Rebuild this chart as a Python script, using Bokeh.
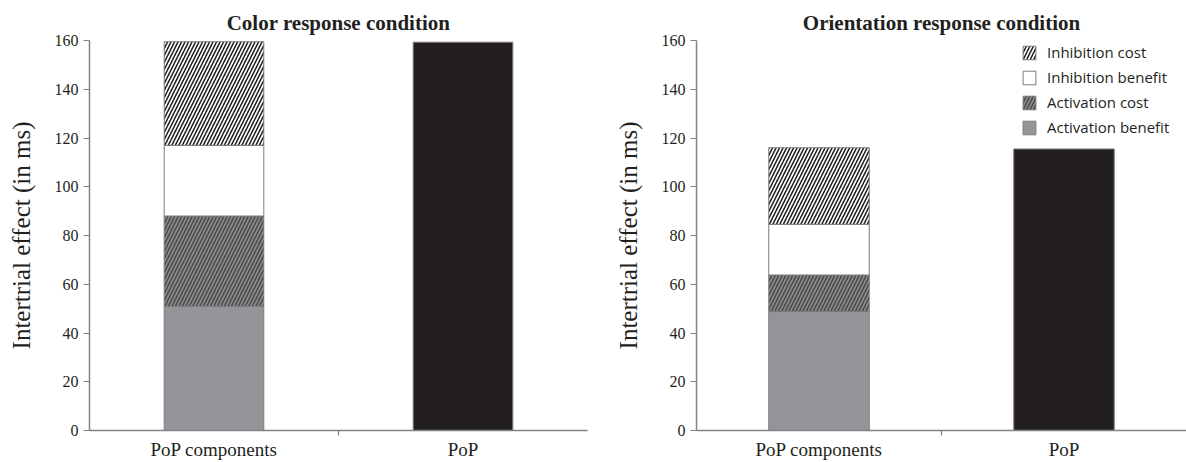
from bokeh.plotting import figure
from bokeh.layouts import row
from bokeh.models import Range1d, FixedTicker, Legend, LegendItem
from bokeh.embed import file_html
from bokeh.resources import INLINE
import numpy as np

# ---------------- data ----------------
categories = ["PoP components", "PoP"]
components = ["Activation benefit", "Activation cost", "Inhibition benefit", "Inhibition cost"]
color_components = [51.0, 37.0, 29.0, 42.5]
color_pop = [159.3]
orient_components = [48.8, 15.0, 20.8, 31.4]
orient_pop = [115.5]
y_ticks = [0, 20, 40, 60, 80, 100, 120, 140, 160]
titles = ["Color response condition", "Orientation response condition"]
y_label = "Intertrial effect (in ms)"

# ---------------- styles ----------------
comp_fill = ["#939598", "#8a8b8d", "#ffffff", "#ffffff"]
comp_hatch = [None, "/", None, "/"]
comp_hatch_color = ["#000000", "#47484a", "#000000", "#1a1a1a"]
pop_fill = "#231f20"
edge = "#7a7b7e"
axis_col = "#808285"
text_col = "#231f20"
SERIF = "Liberation Serif"


def make_panel(title, comp_vals, pop_vals, width, border_left, border_right, bar_w, legend=False):
    p = figure(width=width, height=462, output_backend="svg", toolbar_location=None,
               x_range=Range1d(0, len(categories)), y_range=Range1d(0, 160),
               min_border_left=border_left, min_border_right=border_right,
               min_border_top=40, min_border_bottom=0)
    p.title.text = title
    p.title.align = "center"
    p.title.text_font = SERIF
    p.title.text_font_style = "bold"
    p.title.text_font_size = "21px"
    p.title.text_color = text_col
    p.title.standoff = 12
    p.outline_line_color = None
    p.xgrid.visible = False
    p.ygrid.visible = False

    xs = [i + 0.5 for i in range(len(categories))]
    vals = np.array(comp_vals, dtype=float)
    tops = np.cumsum(vals)
    bottoms = tops - vals
    renderers = []
    for k in range(len(components)):
        kw = dict(x=[xs[0]], bottom=[bottoms[k]], top=[tops[k]], width=bar_w,
                  fill_color=comp_fill[k], line_color=edge, line_width=1)
        if comp_hatch[k]:
            kw.update(hatch_pattern=comp_hatch[k], hatch_color=comp_hatch_color[k],
                      hatch_scale=7, hatch_weight=1.5)
        renderers.append(p.vbar(**kw))
    p.vbar(x=[xs[1]], bottom=[0], top=pop_vals, width=bar_w,
           fill_color=pop_fill, line_color=edge, line_width=1)

    # y axis
    ya = p.yaxis[0]
    ya.ticker = FixedTicker(ticks=y_ticks)
    ya.axis_label = y_label
    ya.axis_label_text_font = SERIF
    ya.axis_label_text_font_style = "normal"
    ya.axis_label_text_font_size = "25px"
    ya.axis_label_text_color = text_col
    ya.axis_label_standoff = 17
    ya.major_label_text_font = SERIF
    ya.major_label_text_font_size = "16px"
    ya.major_label_text_color = text_col
    ya.major_label_standoff = 5
    ya.axis_line_color = axis_col
    ya.axis_line_width = 1.5
    ya.major_tick_line_color = axis_col
    ya.major_tick_line_width = 1.2
    ya.major_tick_in = 0
    ya.major_tick_out = 6
    ya.minor_tick_line_color = None

    # x axis
    xa = p.xaxis[0]
    xa.ticker = FixedTicker(ticks=xs, minor_ticks=[1])
    xa.major_label_overrides = {xs[i]: categories[i] for i in range(len(categories))}
    xa.major_label_text_font = SERIF
    xa.major_label_text_font_size = "19px"
    xa.major_label_text_color = text_col
    xa.major_label_standoff = 2
    xa.axis_line_color = axis_col
    xa.axis_line_width = 1.5
    xa.major_tick_line_color = None
    xa.minor_tick_line_color = axis_col
    xa.minor_tick_line_width = 1.2
    xa.minor_tick_in = 0
    xa.minor_tick_out = 5

    if legend:
        order = [3, 2, 1, 0]
        items = [LegendItem(label=components[k], renderers=[renderers[k]]) for k in order]
        lg = Legend(items=items, location=(325, 293), orientation="vertical",
                    border_line_color=None, background_fill_alpha=0,
                    padding=0, margin=0, spacing=5,
                    glyph_width=16, glyph_height=17, label_height=20,
                    label_standoff=10,
                    label_text_font="Open Sans", label_text_font_size="15px",
                    label_text_color=text_col)
        p.add_layout(lg)
    return p


left = make_panel(titles[0], color_components, color_pop, 595, 89, 8, 0.4)
right = make_panel(titles[1], orient_components, orient_pop, 591, 101, 0, 0.41, legend=True)

layout = row(left, right)
open("out.html", "w").write(file_html(layout, INLINE))
